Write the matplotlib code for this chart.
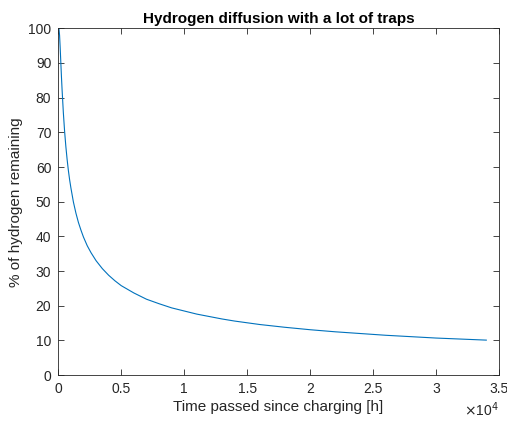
import numpy as np
import matplotlib
matplotlib.use("Agg")
import matplotlib.pyplot as plt
from matplotlib.ticker import MultipleLocator, FuncFormatter

# values
time_h = [0, 50, 100, 150, 200, 250, 300, 400, 500, 600, 700, 800, 900,
          1000, 1200, 1400, 1600, 1800, 2000, 2300, 2600, 3000, 3500,
          4000, 4500, 5000, 6000, 7000, 8000, 9000, 10000, 11000, 12000,
          13000, 14000, 15000, 16000, 18000, 20000, 22000, 24000, 26000,
          28000, 30000, 32000, 34000]
remaining = [100, 99.9, 98.0, 94.3, 90.1, 86.0, 82.3, 75.7, 70.3, 65.9,
             62.2, 59.0, 56.3, 54.0, 49.9, 46.7, 44.0, 41.8, 39.8, 37.3,
             35.3, 33.0, 30.7, 28.8, 27.2, 25.8, 23.7, 21.9, 20.6, 19.4,
             18.5, 17.6, 16.9, 16.2, 15.6, 15.1, 14.6, 13.8, 13.1, 12.5,
             12.0, 11.5, 11.1, 10.7, 10.4, 10.1]

plt.rcParams['font.family'] = ['Liberation Sans', 'DejaVu Sans']
axcol = '#262626'

fig = plt.figure(figsize=(5.07, 4.22), dpi=100)
ax = fig.add_axes([0.115, 0.111, 0.869, 0.822])

ax.plot(time_h, remaining, color='#0072BD', linewidth=0.8)

ax.set_xlim(0, 35000)
ax.set_ylim(0, 100)
ax.xaxis.set_major_locator(MultipleLocator(5000))
ax.yaxis.set_major_locator(MultipleLocator(10))
ax.xaxis.set_major_formatter(FuncFormatter(lambda v, p: '%g' % (v / 1e4)))

ax.tick_params(direction='in', top=True, right=True, length=4, width=0.6,
               colors=axcol, labelsize=10, pad=5)
for s in ax.spines.values():
    s.set_color(axcol)
    s.set_linewidth(0.6)

ax.set_title('Hydrogen diffusion with a lot of traps', fontsize=11,
             fontweight='bold', pad=4)
ax.set_xlabel('Time passed since charging [h]', fontsize=11, color=axcol,
              labelpad=3)
ax.set_ylabel('% of hydrogen remaining', fontsize=11, color=axcol)
ax.text(1.0, -0.118, r'$\times$10$^{4}$', transform=ax.transAxes,
        ha='right', va='baseline', fontsize=10, color=axcol)

fig.savefig('out.png', dpi=100)
